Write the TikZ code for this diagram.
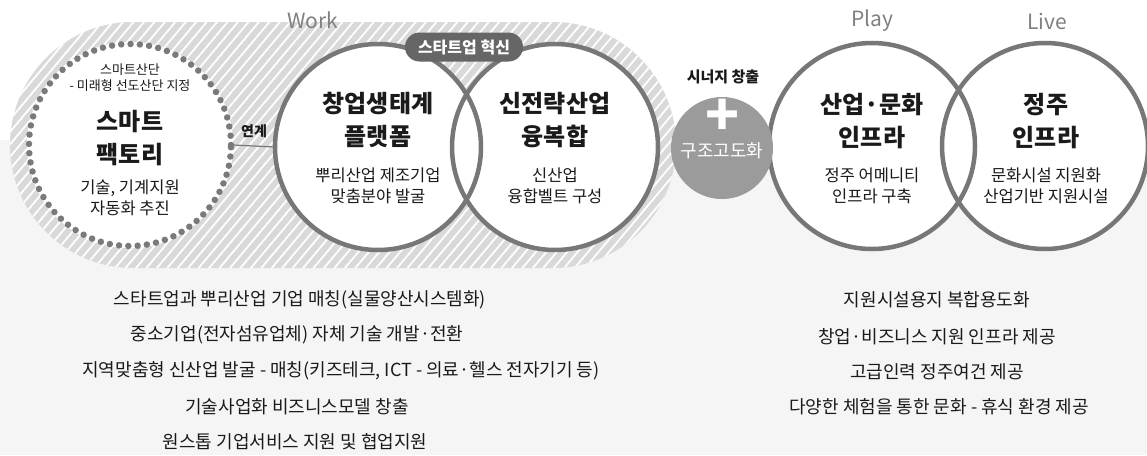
\documentclass[tikz,border=0pt]{standalone}
\usepackage{fontspec}
\setmainfont{Noto Sans CJK KR}
\usetikzlibrary{patterns.meta}

\definecolor{linegray}{HTML}{777777}
\definecolor{dotgray}{HTML}{7A7A7A}
\definecolor{hatchgray}{HTML}{D9D9D9}
\definecolor{bggray}{HTML}{F5F5F5}
\definecolor{pillgray}{HTML}{666666}
\definecolor{plusgray}{HTML}{9B9B9B}
\definecolor{labelgray}{HTML}{808080}
\definecolor{textblack}{HTML}{1A1A1A}

\tikzset{
  workarea/.style={fill=hatchgray, rounded corners=123pt,
    postaction={pattern={Lines[angle=50,distance=8pt,line width=1.8pt]},pattern color=white}},
  ring/.style={draw=linegray, line width=4.5pt},
  dotring/.style={draw=dotgray, line width=6.5pt, line cap=round, dash pattern=on 0pt off 9.3pt},
  linkline/.style={draw=linegray, line width=1.2pt},
  pill/.style={rectangle, rounded corners=14.5pt, fill=pillgray, text=white,
    minimum width=118pt, minimum height=29pt, inner sep=0pt,
    font=\bfseries\fontsize{16}{16}\selectfont},
  headlabel/.style={text=labelgray, font=\fontsize{21}{21}\selectfont},
  circtitle/.style={align=center, text=textblack, font=\bfseries\fontsize{24}{33}\selectfont},
  circsub/.style={align=center, text=textblack, font=\fontsize{16.5}{21}\selectfont},
  itemtext/.style={text=textblack, font=\fontsize{18}{18}\selectfont},
}

\begin{document}
\begin{tikzpicture}[x=1pt,y=-1pt]
  \useasboundingbox (0,0) rectangle (1147,455);
  \fill[white] (0,0) rectangle (1147,140);
  \fill[bggray] (0,140) rectangle (1147,455);

  \path[workarea] (10,22) rectangle (676,268);

  \begin{scope}[every node/.style={circle,fill=white,minimum size=206pt,inner sep=0pt}]
    \node (factory)  at (130,145) {};
    \node (platform) at (378,147) {};
    \node (strategy) at (555,147) {};
    \node (culture)  at (872,146) {};
    \node (living)   at (1045,146) {};
  \end{scope}

  \draw[dotring] (factory.center) circle[radius=101pt];
  \foreach \n in {platform,strategy,culture,living}
    \draw[ring] (\n.center) circle[radius=103pt];

  \path[linkline] (factory.east) -- (platform.west)
    node[midway,above=4pt,text=textblack,font=\bfseries\fontsize{14}{14}\selectfont] {연계};

  \node[pill] (innov) at (464,47) {스타트업 혁신};

  \node[circle,fill=plusgray,minimum size=102pt,inner sep=0pt] (synergy) at (722,148) {};

  \begin{scope}[every node/.style={headlabel}]
    \node (work) at (313,20) {Work};
    \node (play) at (872,21) {Play};
    \node (live) at (1047,21) {Live};
  \end{scope}

  \node[text=textblack,font=\bfseries\fontsize{15}{15}\selectfont] (synlabel) at (723,77) {시너지 창출};
  \node[text=white,inner sep=0pt,font=\bfseries\fontsize{56}{56}\selectfont] (plus) at (723,117) {+};
  \node[text=white,font=\fontsize{18}{18}\selectfont] (upgrade) at (722,151) {구조고도화};

  \node[align=center,text=textblack,font=\fontsize{13}{16}\selectfont] (f0) at (130,78) {스마트산단\\- 미래형 선도산단 지정};
  \node[circtitle] (f1) at (130,138) {스마트\\팩토리};
  \node[circsub]   (f2) at (130,198) {기술, 기계지원\\자동화 추진};

  \node[circtitle] (p1) at (378,120) {창업생태계\\플랫폼};
  \node[circsub]   (p2) at (378,186) {뿌리산업 제조기업\\맞춤분야 발굴};
  \node[circtitle] (s1) at (555,120) {신전략산업\\융복합};
  \node[circsub]   (s2) at (555,186) {신산업\\융합벨트 구성};
  \node[circtitle] (c1) at (872,121) {산업·문화\\인프라};
  \node[circsub]   (c2) at (872,186) {정주 어메니티\\인프라 구축};
  \node[circtitle] (l1) at (1046,121) {정주\\인프라};
  \node[circsub]   (l2) at (1046,186) {문화시설 지원화\\산업기반 지원시설};

  \begin{scope}[every node/.style={itemtext}]
    \node (w1) at (300,300) {스타트업과 뿌리산업 기업 매칭(실물양산시스템화)};
    \node (w2) at (297,335) {중소기업(전자섬유업체) 자체 기술 개발·전환};
    \node (w3) at (341,371) {지역맞춤형 신산업 발굴 - 매칭(키즈테크, ICT - 의료·헬스 전자기기 등)};
    \node (w4) at (297,407) {기술사업화 비즈니스모델 창출};
    \node (w5) at (295,442) {원스톱 기업서비스 지원 및 협업지원};
    \node (r1) at (937,300) {지원시설용지 복합용도화};
    \node (r2) at (937,337) {창업·비즈니스 지원 인프라 제공};
    \node (r3) at (937,372) {고급인력 정주여건 제공};
    \node (r4) at (939,407) {다양한 체험을 통한 문화 - 휴식 환경 제공};
  \end{scope}
\end{tikzpicture}
\end{document}
